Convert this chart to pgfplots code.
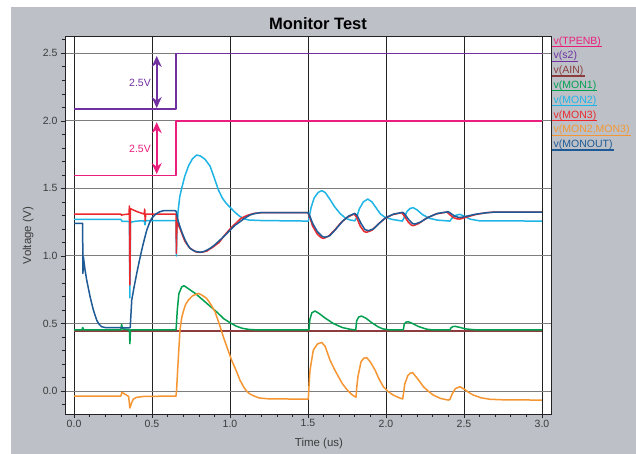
\documentclass[border=0pt]{standalone}
\usepackage{fontspec}
\setmainfont{Liberation Sans}
\usepackage{pgfplots}
\pgfplotsset{compat=1.18}
\usetikzlibrary{arrows.meta}

\definecolor{panel}{RGB}{189,193,199}
\definecolor{hgrid}{RGB}{125,125,125}
\definecolor{vgrid}{RGB}{35,35,35}
\definecolor{ticktext}{RGB}{60,60,60}
\definecolor{tpenb}{RGB}{234,30,125}
\definecolor{sii}{RGB}{112,48,160}
\definecolor{ain}{RGB}{140,60,60}
\definecolor{monone}{RGB}{0,160,80}
\definecolor{montwo}{RGB}{30,180,230}
\definecolor{monthree}{RGB}{235,40,45}
\definecolor{mondiff}{RGB}{245,150,50}
\definecolor{monout}{RGB}{30,90,150}

% legend row: baseline y, colour, text
\newcommand\legitem[3]{%
  \node[anchor=base west, inner sep=0pt, text=#2,
        font=\fontsize{10.5}{12}\selectfont] (L) at (553.5pt,#1) {#3};
  \draw[#2, line width=1.2pt] ([xshift=-1.5pt,yshift=-2.4pt]L.base west)
    -- ([xshift=1pt,yshift=-2.4pt]L.base east);
}

\begin{document}
\begin{tikzpicture}
\fill[white] (0,0) rectangle (636pt,454pt);
\fill[panel] (11pt,0) rectangle (636pt,447pt);
\begin{axis}[
    at={(65pt,40pt)}, anchor=south west,
    scale only axis, width=486pt, height=378pt,
    axis background/.style={fill=white},
    xmin=-0.058, xmax=3.058,
    ymin=-0.17, ymax=2.628,
    xtick={0,0.5,...,3}, ytick={0,0.5,...,2.5},
    minor xtick={0,0.1,...,3}, minor ytick={-0.1,0,...,2.6},
    tick pos=left, tick align=outside,
    major tick length=4pt, minor tick length=3pt,
    tick style={vgrid, line width=0.6pt},
    axis line style={vgrid, line width=0.8pt},
    grid=major,
    x grid style={draw=vgrid, line width=0.8pt},
    y grid style={draw=hgrid, line width=1pt},
    /pgf/number format/assume math mode=true,
    xticklabel style={/pgf/number format/fixed, /pgf/number format/fixed zerofill,
        /pgf/number format/precision=1, inner sep=1.5pt},
    yticklabel style={/pgf/number format/fixed, /pgf/number format/fixed zerofill,
        /pgf/number format/precision=1},
    tick label style={font=\fontsize{10.5}{12}\selectfont, text=ticktext},
    title={Monitor Test},
    title style={at={(axis description cs:0.5206,1.016)}, anchor=center,
        font=\bfseries\fontsize{16.5}{19}\selectfont},
    xlabel={Time (us)},
    xlabel style={at={(axis description cs:0.5226,-0.078)}, anchor=center,
        font=\fontsize{11.5}{13}\selectfont, text=ticktext},
    ylabel={Voltage (V)},
    ylabel style={at={(axis description cs:-0.076,0.472)}, anchor=center,
        font=\fontsize{11.5}{13}\selectfont, text=ticktext},
    no markers,
    every axis plot/.append style={line width=1.5pt, line join=round},
]
% v(TPENB)
\addplot[tpenb] coordinates {(0,1.594)(0.654,1.594)(0.654,2.0)(3.0,2.0)};
% v(s2)
\addplot[sii] coordinates {(0,2.087)(0.654,2.087)(0.654,2.5)(3.0,2.5)};
% v(AIN)
\addplot[ain, line width=2.2pt] coordinates {(0,0.443)(3.0,0.443)};
% v(MON1)
\addplot[monone] coordinates {
  (0,0.452)(0.05,0.452)(0.056,0.47)(0.062,0.452)(0.30,0.452)(0.305,0.495)(0.31,0.46)
  (0.355,0.452)(0.358,0.35)(0.362,0.452)(0.654,0.452)(0.662,0.60)(0.672,0.72)
  (0.69,0.77)(0.705,0.78)(0.73,0.76)(0.78,0.72)(0.83,0.67)(0.876,0.624)(0.92,0.58)
  (0.96,0.535)(1.0,0.506)(1.04,0.48)(1.08,0.464)(1.12,0.456)(1.18,0.452)(1.506,0.452)
  (1.512,0.53)(1.525,0.58)(1.545,0.592)(1.57,0.575)(1.61,0.54)(1.662,0.50)(1.72,0.47)
  (1.77,0.457)(1.806,0.452)(1.812,0.52)(1.825,0.548)(1.844,0.555)(1.87,0.54)(1.91,0.505)
  (1.95,0.475)(1.98,0.46)(2.02,0.453)(2.111,0.452)(2.117,0.495)(2.128,0.51)(2.143,0.513)
  (2.17,0.50)(2.21,0.477)(2.26,0.458)(2.30,0.452)(2.41,0.452)(2.418,0.47)(2.43,0.477)
  (2.442,0.479)(2.47,0.472)(2.51,0.46)(2.56,0.454)(2.60,0.452)(3.0,0.452)};
% v(MON2)
\addplot[montwo] coordinates {
  (0,1.271)(0.30,1.271)(0.305,1.262)(0.31,1.255)(0.355,1.255)(0.358,0.69)(0.362,1.25)
  (0.40,1.258)(0.45,1.26)(0.455,1.23)(0.46,1.262)(0.654,1.262)(0.656,1.0)(0.66,1.2)
  (0.667,1.33)(0.678,1.44)(0.69,1.50)(0.71,1.59)(0.735,1.67)(0.76,1.72)(0.786,1.747)
  (0.81,1.74)(0.84,1.715)(0.872,1.665)(0.90,1.575)(0.925,1.49)(0.95,1.43)(0.975,1.39)
  (1.0,1.36)(1.03,1.325)(1.06,1.295)(1.09,1.275)(1.12,1.266)(1.2,1.262)(1.50,1.258)
  (1.503,1.26)(1.52,1.36)(1.54,1.43)(1.565,1.47)(1.588,1.483)(1.61,1.47)(1.64,1.42)
  (1.67,1.365)(1.705,1.315)(1.74,1.28)(1.77,1.266)(1.80,1.26)(1.81,1.28)(1.83,1.35)
  (1.855,1.40)(1.883,1.421)(1.91,1.40)(1.94,1.35)(1.965,1.31)(1.994,1.286)(2.04,1.27)
  (2.105,1.258)(2.115,1.28)(2.135,1.33)(2.155,1.352)(2.175,1.357)(2.2,1.34)(2.235,1.305)
  (2.28,1.278)(2.33,1.265)(2.41,1.258)(2.42,1.275)(2.44,1.298)(2.474,1.308)(2.5,1.295)
  (2.54,1.272)(2.6,1.26)(3.0,1.258)};
% v(MON3)
\addplot[monthree] coordinates {
  (0,1.31)(0.30,1.31)(0.305,1.30)(0.31,1.305)(0.352,1.31)(0.355,1.37)(0.358,0.785)
  (0.362,1.35)(0.38,1.34)(0.41,1.325)(0.45,1.31)(0.453,1.347)(0.456,1.26)(0.46,1.31)
  (0.654,1.31)(0.656,1.02)(0.66,1.25)(0.68,1.20)(0.71,1.11)(0.74,1.06)(0.78,1.03)
  (0.81,1.026)(0.85,1.035)(0.89,1.065)(0.93,1.10)(0.97,1.16)(1.0,1.20)(1.04,1.245)
  (1.07,1.278)(1.11,1.30)(1.154,1.315)(1.2,1.32)(1.50,1.32)(1.51,1.29)(1.53,1.22)
  (1.56,1.16)(1.585,1.135)(1.60,1.13)(1.63,1.145)(1.67,1.19)(1.71,1.245)(1.75,1.285)
  (1.795,1.31)(1.81,1.29)(1.835,1.22)(1.86,1.18)(1.876,1.175)(1.91,1.19)(1.95,1.235)
  (1.99,1.275)(2.04,1.305)(2.10,1.32)(2.115,1.30)(2.14,1.255)(2.16,1.23)(2.175,1.224)
  (2.21,1.24)(2.26,1.28)(2.32,1.31)(2.39,1.325)(2.405,1.31)(2.43,1.285)(2.455,1.274)
  (2.474,1.273)(2.51,1.285)(2.57,1.305)(2.64,1.32)(2.7,1.325)(3.0,1.325)};
% v(MON2,MON3)
\addplot[mondiff] coordinates {
  (0,-0.037)(0.30,-0.037)(0.307,-0.01)(0.315,-0.015)(0.35,-0.04)(0.358,-0.126)
  (0.37,-0.085)(0.38,-0.06)(0.40,-0.047)(0.445,-0.04)(0.654,-0.037)(0.658,0.02)
  (0.664,0.15)(0.669,0.25)(0.679,0.45)(0.69,0.54)(0.70,0.587)(0.715,0.64)(0.733,0.673)
  (0.76,0.705)(0.797,0.723)(0.82,0.71)(0.85,0.686)(0.875,0.645)(0.904,0.587)(0.93,0.50)
  (0.957,0.402)(0.985,0.31)(1.01,0.229)(1.04,0.15)(1.064,0.08)(1.09,0.025)(1.11,-0.005)
  (1.128,-0.022)(1.16,-0.04)(1.19,-0.052)(1.25,-0.058)(1.502,-0.06)(1.507,0.05)
  (1.513,0.155)(1.534,0.303)(1.56,0.348)(1.588,0.36)(1.61,0.33)(1.641,0.229)(1.67,0.16)
  (1.695,0.106)(1.72,0.055)(1.748,0.013)(1.775,-0.02)(1.80,-0.042)(1.808,-0.045)
  (1.812,0.02)(1.82,0.106)(1.84,0.217)(1.858,0.243)(1.876,0.247)(1.90,0.215)(1.93,0.155)
  (1.955,0.09)(1.983,0.032)(2.015,-0.005)(2.047,-0.03)(2.08,-0.048)(2.107,-0.059)
  (2.112,-0.02)(2.12,0.05)(2.14,0.115)(2.155,0.132)(2.171,0.136)(2.2,0.095)(2.24,0.032)
  (2.27,0.0)(2.303,-0.03)(2.35,-0.055)(2.40,-0.067)(2.41,-0.062)(2.425,-0.02)
  (2.445,0.018)(2.474,0.032)(2.50,0.015)(2.53,-0.01)(2.56,-0.03)(2.61,-0.05)
  (2.667,-0.061)(2.75,-0.065)(3.0,-0.067)};
% v(MONOUT)
\addplot[monout] coordinates {
  (0,1.241)(0.055,1.241)(0.057,0.87)(0.06,0.994)(0.07,0.90)(0.081,0.822)(0.092,0.76)
  (0.103,0.698)(0.114,0.645)(0.124,0.60)(0.135,0.56)(0.145,0.525)(0.16,0.495)
  (0.177,0.476)(0.20,0.47)(0.231,0.469)(0.355,0.468)(0.36,0.47)(0.37,0.674)(0.385,0.77)
  (0.402,0.871)(0.418,0.96)(0.434,1.044)(0.45,1.12)(0.466,1.19)(0.482,1.24)(0.498,1.278)
  (0.515,1.30)(0.53,1.315)(0.55,1.327)(0.573,1.335)(0.647,1.335)(0.655,1.33)(0.665,1.27)
  (0.679,1.216)(0.695,1.165)(0.712,1.118)(0.728,1.083)(0.744,1.056)(0.765,1.04)
  (0.786,1.031)(0.81,1.028)(0.829,1.031)(0.85,1.042)(0.872,1.056)(0.90,1.08)(0.936,1.118)
  (0.97,1.155)(1.0,1.19)(1.03,1.225)(1.064,1.253)(1.095,1.28)(1.128,1.303)(1.16,1.314)
  (1.192,1.32)(1.50,1.32)(1.51,1.30)(1.53,1.24)(1.56,1.18)(1.59,1.145)(1.61,1.138)
  (1.64,1.15)(1.68,1.20)(1.72,1.255)(1.76,1.295)(1.80,1.315)(1.815,1.30)(1.84,1.24)
  (1.865,1.195)(1.887,1.187)(1.92,1.20)(1.96,1.245)(2.0,1.285)(2.05,1.31)(2.107,1.323)
  (2.12,1.31)(2.145,1.27)(2.17,1.24)(2.185,1.236)(2.22,1.25)(2.27,1.285)(2.33,1.315)
  (2.40,1.327)(2.415,1.315)(2.44,1.295)(2.465,1.285)(2.484,1.286)(2.52,1.295)(2.58,1.31)
  (2.65,1.32)(2.7,1.325)(3.0,1.325)};
% step annotations
\draw[sii, line width=1.6pt, {Stealth[length=11pt,width=10pt]}-{Stealth[length=11pt,width=10pt]}]
  (axis cs:0.53,2.095) -- (axis cs:0.53,2.48);
\node[sii, anchor=east, inner sep=1pt, font=\fontsize{10.5}{12}\selectfont]
  at (axis cs:0.50,2.282) {2.5V};
\draw[tpenb, line width=1.6pt, {Stealth[length=11pt,width=10pt]}-{Stealth[length=11pt,width=10pt]}]
  (axis cs:0.53,1.606) -- (axis cs:0.53,1.99);
\node[tpenb, anchor=east, inner sep=1pt, font=\fontsize{10.5}{12}\selectfont]
  at (axis cs:0.50,1.789) {2.5V};
\end{axis}
\legitem{409.9pt}{tpenb}{v(TPENB)}
\legitem{395.1pt}{sii}{v(s2)}
\legitem{380.3pt}{ain}{v(AIN)}
\legitem{365.5pt}{monone}{v(MON1)}
\legitem{350.7pt}{montwo}{v(MON2)}
\legitem{335.9pt}{monthree}{v(MON3)}
\legitem{321.1pt}{mondiff}{v(MON2,MON3)}
\legitem{306.3pt}{monout}{v(MONOUT)}
\pgfresetboundingbox
\useasboundingbox (0,0) rectangle (636pt,454pt);
\end{tikzpicture}
\end{document}
